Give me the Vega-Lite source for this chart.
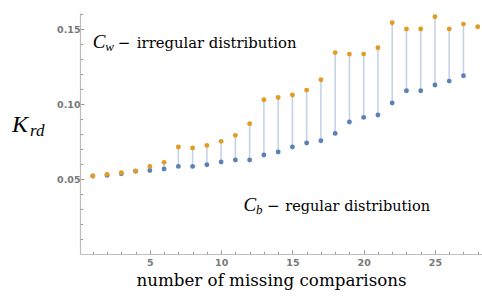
{
  "$schema": "https://vega.github.io/schema/vega-lite/v6.json",
  "width": 402,
  "height": 241,
  "autosize": {"type": "none"},
  "padding": {"left": 80, "top": 13, "right": 0, "bottom": 45},
  "background": "white",
  "config": {"view": {"stroke": null}},
  "resolve": {"axis": {"x": "independent", "y": "independent"}},
  "datasets": {
    "kappa": [
      {"n": 1, "cw": 0.0520, "cb": 0.0520},
      {"n": 2, "cw": 0.0531, "cb": 0.0524},
      {"n": 3, "cw": 0.0542, "cb": 0.0535},
      {"n": 4, "cw": 0.0553, "cb": 0.0552},
      {"n": 5, "cw": 0.0584, "cb": 0.0557},
      {"n": 6, "cw": 0.0611, "cb": 0.0567},
      {"n": 7, "cw": 0.0713, "cb": 0.0584},
      {"n": 8, "cw": 0.0707, "cb": 0.0584},
      {"n": 9, "cw": 0.0724, "cb": 0.0595},
      {"n": 10, "cw": 0.0751, "cb": 0.0613},
      {"n": 11, "cw": 0.0791, "cb": 0.0627},
      {"n": 12, "cw": 0.0869, "cb": 0.0627},
      {"n": 13, "cw": 0.1029, "cb": 0.0660},
      {"n": 14, "cw": 0.1044, "cb": 0.0680},
      {"n": 15, "cw": 0.1060, "cb": 0.0713},
      {"n": 16, "cw": 0.1093, "cb": 0.0740},
      {"n": 17, "cw": 0.1162, "cb": 0.0755},
      {"n": 18, "cw": 0.1343, "cb": 0.0804},
      {"n": 19, "cw": 0.1333, "cb": 0.0880},
      {"n": 20, "cw": 0.1333, "cb": 0.0911},
      {"n": 21, "cw": 0.1375, "cb": 0.0927},
      {"n": 22, "cw": 0.1542, "cb": 0.1007},
      {"n": 23, "cw": 0.1500, "cb": 0.1089},
      {"n": 24, "cw": 0.1500, "cb": 0.1089},
      {"n": 25, "cw": 0.1582, "cb": 0.1127},
      {"n": 26, "cw": 0.1500, "cb": 0.1153},
      {"n": 27, "cw": 0.1533, "cb": 0.1189},
      {"n": 28, "cw": 0.1515, "cb": null}
    ],
    "one": [{}]
  },
  "layer": [
    {
      "data": {"name": "kappa"},
      "transform": [{"filter": "isValid(datum.cb)"}],
      "mark": {"type": "rule", "color": "#c6d3e7", "strokeWidth": 1.6},
      "encoding": {
        "x": {
          "field": "n", "type": "quantitative",
          "scale": {"domain": [0.1, 28.3], "nice": false, "zero": false},
          "axis": {
            "orient": "bottom",
            "values": [5, 10, 15, 20, 25],
            "title": "number of missing comparisons",
            "titleFont": "DejaVu Serif", "titleFontSize": 16.7, "titleFontWeight": "normal", "titleColor": "#000000",
            "titleX": 191, "titleY": 31, "titleBaseline": "alphabetic", "titleAlign": "center",
            "labelOverlap": false, "labelFlush": false,
            "labelFont": "DejaVu Sans", "labelFontSize": 9.5, "labelFontWeight": "bold", "labelColor": "#777777",
            "labelPadding": 7,
            "tickSize": -4,
            "tickColor": "#9a9a9a", "tickWidth": 1,
            "domainColor": "#bdbdbd", "domainWidth": 1.2,
            "grid": false
          }
        },
        "y": {
          "field": "cb", "type": "quantitative",
          "scale": {"domain": [0, 0.1607], "nice": false, "zero": false},
          "axis": {
            "orient": "left",
            "values": [0.05, 0.10, 0.15],
            "title": null,
            "format": ".2f",
            "labelOverlap": false, "labelFlush": false,
            "labelFont": "DejaVu Sans", "labelFontSize": 9.5, "labelFontWeight": "bold", "labelColor": "#777777",
            "labelPadding": 4,
            "tickSize": -4,
            "tickColor": "#9a9a9a", "tickWidth": 1,
            "domainColor": "#bdbdbd", "domainWidth": 1.2,
            "grid": false
          }
        },
        "y2": {"field": "cw"}
      }
    },
    {
      "data": {"name": "kappa"},
      "transform": [{"filter": "isValid(datum.cb)"}],
      "mark": {"type": "circle", "color": "#5e81b5", "opacity": 1, "size": 24},
      "encoding": {
        "x": {"field": "n", "type": "quantitative",
          "axis": {"orient": "bottom", "values": [1,2,3,4,6,7,8,9,11,12,13,14,16,17,18,19,21,22,23,24,26,27,28], "labels": false, "domain": false, "title": null, "grid": false, "tickSize": -2.5, "tickColor": "#9a9a9a", "tickWidth": 1}},
        "y": {"field": "cb", "type": "quantitative",
          "axis": {"orient": "left", "values": [0.01,0.02,0.03,0.04,0.06,0.07,0.08,0.09,0.11,0.12,0.13,0.14,0.16], "labels": false, "domain": false, "title": null, "grid": false, "tickSize": -2.5, "tickColor": "#9a9a9a", "tickWidth": 1}}
      }
    },
    {
      "data": {"name": "kappa"},
      "mark": {"type": "circle", "color": "#e19c24", "opacity": 1, "size": 24},
      "encoding": {
        "x": {"field": "n", "type": "quantitative", "axis": null},
        "y": {"field": "cw", "type": "quantitative", "axis": null}
      }
    },
    {
      "data": {"name": "one"},
      "mark": {"type": "text", "font": "Liberation Serif", "fontSize": 24, "fontStyle": "italic", "align": "left", "baseline": "alphabetic", "color": "#000000"},
      "encoding": {"x": {"datum": -4.67, "axis": null}, "y": {"datum": 0.0815, "axis": null}, "text": {"value": "K"}}
    },
    {
      "data": {"name": "one"},
      "mark": {"type": "text", "font": "Liberation Serif", "fontSize": 17, "fontStyle": "italic", "align": "left", "baseline": "alphabetic", "dx": 18, "dy": 4, "color": "#000000"},
      "encoding": {"x": {"datum": -4.67, "axis": null}, "y": {"datum": 0.0815, "axis": null}, "text": {"value": "rd"}}
    },
    {
      "data": {"name": "one"},
      "mark": {"type": "text", "font": "Liberation Serif", "fontSize": 19, "fontStyle": "italic", "align": "left", "baseline": "alphabetic", "color": "#000000"},
      "encoding": {"x": {"datum": 1.0, "axis": null}, "y": {"datum": 0.1371, "axis": null}, "text": {"value": "C"}}
    },
    {
      "data": {"name": "one"},
      "mark": {"type": "text", "font": "Liberation Serif", "fontSize": 13, "fontStyle": "italic", "align": "left", "baseline": "alphabetic", "dx": 12.5, "dy": 3, "color": "#000000"},
      "encoding": {"x": {"datum": 1.0, "axis": null}, "y": {"datum": 0.1371, "axis": null}, "text": {"value": "w"}}
    },
    {
      "data": {"name": "one"},
      "mark": {"type": "text", "font": "DejaVu Serif", "fontSize": 15, "align": "left", "baseline": "alphabetic", "dx": 25, "color": "#000000"},
      "encoding": {"x": {"datum": 1.0, "axis": null}, "y": {"datum": 0.1371, "axis": null}, "text": {"value": "−"}}
    },
    {
      "data": {"name": "one"},
      "mark": {"type": "text", "font": "DejaVu Serif", "fontSize": 14.8, "align": "left", "baseline": "alphabetic", "dx": 44, "color": "#000000"},
      "encoding": {"x": {"datum": 1.0, "axis": null}, "y": {"datum": 0.1371, "axis": null}, "text": {"value": "irregular distribution"}}
    },
    {
      "data": {"name": "one"},
      "mark": {"type": "text", "font": "Liberation Serif", "fontSize": 19, "fontStyle": "italic", "align": "left", "baseline": "alphabetic", "color": "#000000"},
      "encoding": {"x": {"datum": 11.57, "axis": null}, "y": {"datum": 0.0289, "axis": null}, "text": {"value": "C"}}
    },
    {
      "data": {"name": "one"},
      "mark": {"type": "text", "font": "Liberation Serif", "fontSize": 13, "fontStyle": "italic", "align": "left", "baseline": "alphabetic", "dx": 12.4, "dy": 3, "color": "#000000"},
      "encoding": {"x": {"datum": 11.57, "axis": null}, "y": {"datum": 0.0289, "axis": null}, "text": {"value": "b"}}
    },
    {
      "data": {"name": "one"},
      "mark": {"type": "text", "font": "DejaVu Serif", "fontSize": 15, "align": "left", "baseline": "alphabetic", "dx": 23.5, "color": "#000000"},
      "encoding": {"x": {"datum": 11.57, "axis": null}, "y": {"datum": 0.0289, "axis": null}, "text": {"value": "−"}}
    },
    {
      "data": {"name": "one"},
      "mark": {"type": "text", "font": "DejaVu Serif", "fontSize": 14.5, "align": "left", "baseline": "alphabetic", "dx": 41.7, "color": "#000000"},
      "encoding": {"x": {"datum": 11.57, "axis": null}, "y": {"datum": 0.0289, "axis": null}, "text": {"value": "regular distribution"}}
    }
  ]
}
